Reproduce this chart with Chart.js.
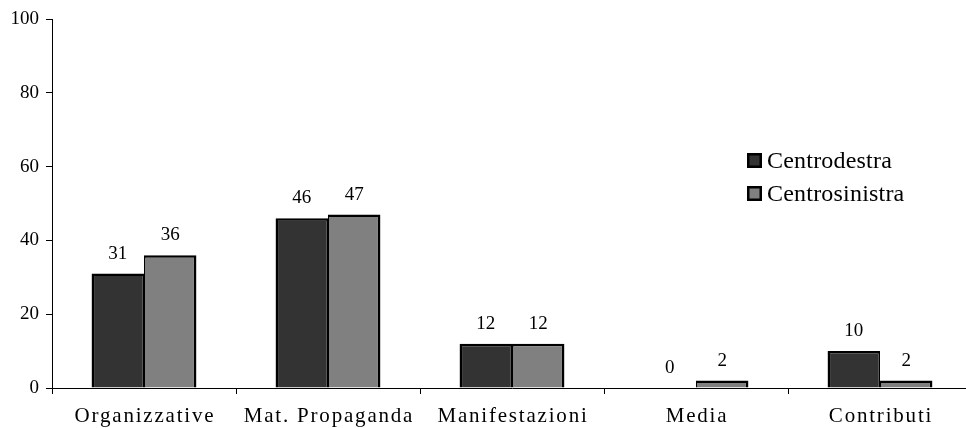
<!DOCTYPE html>
<html>
<head>
<meta charset="utf-8">
<script src="https://cdn.jsdelivr.net/npm/chart.js@4/dist/chart.umd.min.js"></script>
<style>
  html, body { margin: 0; padding: 0; background: #fff; overflow: hidden; }
  #wrap { width: 972px; height: 428px; }
</style>
</head>
<body>
<div id="wrap"><canvas id="c" width="972" height="428"></canvas></div>
<script>
const categories = ['Organizzative', 'Mat. Propaganda', 'Manifestazioni', 'Media', 'Contributi'];
const seriesNames = ['Centrodestra', 'Centrosinistra'];
const centrodestra = [31, 46, 12, 0, 10];
const centrosinistra = [36, 47, 12, 2, 2];
const yTicks = [0, 20, 40, 60, 80, 100];

const FONT = '"Liberation Serif", "Times New Roman", serif';
const colors = ['#333333', '#808080'];

// Value labels above each bar
const valueLabels = {
  id: 'valueLabels',
  afterDatasetsDraw(chart) {
    const ctx = chart.ctx;
    ctx.save();
    ctx.font = '19px ' + FONT;
    ctx.fillStyle = '#000';
    ctx.textAlign = 'center';
    ctx.textBaseline = 'alphabetic';
    chart.data.datasets.forEach((ds, i) => {
      chart.getDatasetMeta(i).data.forEach((bar, j) => {
        ctx.fillText(String(ds.data[j]), bar.x, bar.y - 15);
      });
    });
    ctx.restore();
  }
};

// Category names under the x axis, slightly spaced out
const categoryLabels = {
  id: 'categoryLabels',
  afterDraw(chart) {
    const ctx = chart.ctx;
    const x = chart.scales.x;
    ctx.save();
    ctx.font = '21px ' + FONT;
    ctx.fillStyle = '#000';
    ctx.textAlign = 'center';
    ctx.textBaseline = 'alphabetic';
    ctx.letterSpacing = '1.8px';
    chart.data.labels.forEach((lab, i) => {
      ctx.fillText(lab, x.getPixelForValue(i) + 1, x.bottom - 6);
    });
    ctx.restore();
  }
};

// Legend with square swatches on the right side of the plot
const sideLegend = {
  id: 'sideLegend',
  afterDraw(chart) {
    const ctx = chart.ctx;
    ctx.save();
    ctx.font = '24px ' + FONT;
    ctx.textBaseline = 'alphabetic';
    ctx.textAlign = 'left';
    ctx.letterSpacing = '0.2px';
    chart.data.datasets.forEach((ds, i) => {
      const base = 168 + i * 33;
      ctx.fillStyle = '#000';
      ctx.fillRect(747, base - 15, 15, 15);
      ctx.fillStyle = ds.backgroundColor;
      ctx.fillRect(749.5, base - 12.5, 10, 10);
      ctx.fillStyle = '#000';
      ctx.fillText(ds.label, 767, base);
    });
    ctx.restore();
  }
};

new Chart(document.getElementById('c'), {
  type: 'bar',
  data: {
    labels: categories,
    datasets: [
      { label: seriesNames[0], data: centrodestra, backgroundColor: colors[0], borderColor: '#000',
        borderWidth: { top: 2.5, left: 2.5, right: 1.5, bottom: 0 } },
      { label: seriesNames[1], data: centrosinistra, backgroundColor: colors[1], borderColor: '#000',
        borderWidth: { top: 2.5, left: 1.5, right: 2.5, bottom: 0 } }
    ]
  },
  options: {
    responsive: false,
    animation: false,
    devicePixelRatio: 1,
    layout: { padding: { top: 19, left: 0, right: 0, bottom: 0 } },
    datasets: { bar: { barPercentage: 1, categoryPercentage: 0.57 } },
    plugins: { legend: { display: false }, tooltip: { enabled: false } },
    scales: {
      x: {
        grid: { display: true, drawOnChartArea: false, drawTicks: true, tickLength: 6, color: '#000', offset: true },
        border: { display: true, color: '#000', width: 1 },
        ticks: { color: 'rgba(0,0,0,0)', font: { family: FONT, size: 18 } },
        afterFit(scale) { scale.height = 40; }
      },
      y: {
        min: 0,
        max: 100,
        afterBuildTicks(scale) { scale.ticks = yTicks.map(v => ({ value: v })); },
        grid: { display: true, drawOnChartArea: false, drawTicks: true, tickLength: 6, color: '#000' },
        border: { display: true, color: '#000', width: 1 },
        ticks: { color: '#000', padding: 7, font: { family: FONT, size: 19 } },
        afterFit(scale) { scale.width = 52; }
      }
    }
  },
  plugins: [valueLabels, categoryLabels, sideLegend]
});
</script>
</body>
</html>
